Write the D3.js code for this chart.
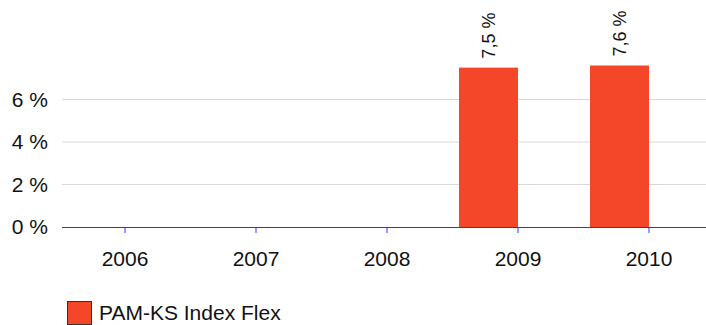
<!DOCTYPE html>
<html>
<head>
<meta charset="utf-8">
<script src="https://cdn.jsdelivr.net/npm/d3@7"></script>
<style>
  body { margin: 0; background: #fff; }
  svg { font-family: "Liberation Sans", Arial, sans-serif; }
</style>
</head>
<body>
<svg width="706" height="325"></svg>
<script>
var years = ["2006", "2007", "2008", "2009", "2010"];
var values = [null, null, null, 7.5, 7.6];
var valueLabels = ["", "", "", "7,5 %", "7,6 %"];
var yTicks = [0, 2, 4, 6];
var seriesName = "PAM-KS Index Flex";

var svg = d3.select("svg");
var barColor = "#f4472a";

var xscale = d3.scalePoint().domain(years).range([125, 649]);
var yscale = d3.scaleLinear().domain([0, 6]).range([227, 99.5]);
var barWidth = 59;

// gridlines
svg.append("g")
  .selectAll("line")
  .data(yTicks.filter(function(t){ return t > 0; }))
  .enter()
  .append("line")
  .attr("x1", 62).attr("x2", 706)
  .attr("y1", function(d){ return yscale(d); })
  .attr("y2", function(d){ return yscale(d); })
  .attr("stroke", "#d9d9d9")
  .attr("stroke-width", 1);

// y labels
svg.append("g")
  .selectAll("text")
  .data(yTicks)
  .enter()
  .append("text")
  .attr("x", 48)
  .attr("y", function(d){ return yscale(d); })
  .attr("dy", "0.35em")
  .attr("text-anchor", "end")
  .attr("font-size", 21)
  .attr("fill", "#111")
  .text(function(d){ return d + " %"; });

// bars
var points = years.map(function(y, i){ return {year: y, value: values[i], label: valueLabels[i]}; })
  .filter(function(p){ return p.value != null; });

svg.append("g")
  .selectAll("rect")
  .data(points)
  .enter()
  .append("rect")
  .attr("x", function(d){ return xscale(d.year) - barWidth; })
  .attr("width", barWidth)
  .attr("y", function(d){ return yscale(d.value); })
  .attr("height", function(d){ return yscale(0) - yscale(d.value); })
  .attr("fill", barColor);

// value labels
svg.append("g")
  .selectAll("text")
  .data(points)
  .enter()
  .append("text")
  .attr("transform", function(d){
    return "translate(" + (xscale(d.year) - barWidth / 2 + 6) + "," + (yscale(d.value) - 9) + ") rotate(-90)";
  })
  .attr("text-anchor", "start")
  .attr("font-size", 18)
  .attr("fill", "#111")
  .text(function(d){ return d.label; });

// x axis line
svg.append("line")
  .attr("x1", 62).attr("x2", 706)
  .attr("y1", yscale(0) + 0.5).attr("y2", yscale(0) + 0.5)
  .attr("stroke", "#444")
  .attr("stroke-width", 1.2);

// x ticks
svg.append("g")
  .selectAll("line")
  .data(years)
  .enter()
  .append("line")
  .attr("x1", function(d){ return xscale(d); })
  .attr("x2", function(d){ return xscale(d); })
  .attr("y1", yscale(0) + 1).attr("y2", yscale(0) + 6)
  .attr("stroke", "#3333ff")
  .attr("stroke-width", 1);

svg.append("g")
  .selectAll("text")
  .data(years)
  .enter()
  .append("text")
  .attr("x", function(d){ return xscale(d); })
  .attr("y", 259)
  .attr("dy", "0.35em")
  .attr("text-anchor", "middle")
  .attr("font-size", 21)
  .attr("fill", "#111")
  .text(function(d){ return d; });

// legend
svg.append("rect")
  .attr("x", 67.5).attr("y", 301.5)
  .attr("width", 24).attr("height", 23)
  .attr("fill", barColor)
  .attr("stroke", "#333")
  .attr("stroke-width", 1);

svg.append("text")
  .attr("x", 99)
  .attr("y", 313)
  .attr("dy", "0.35em")
  .attr("font-size", 21)
  .attr("fill", "#111")
  .text(seriesName);
</script>
</body>
</html>
